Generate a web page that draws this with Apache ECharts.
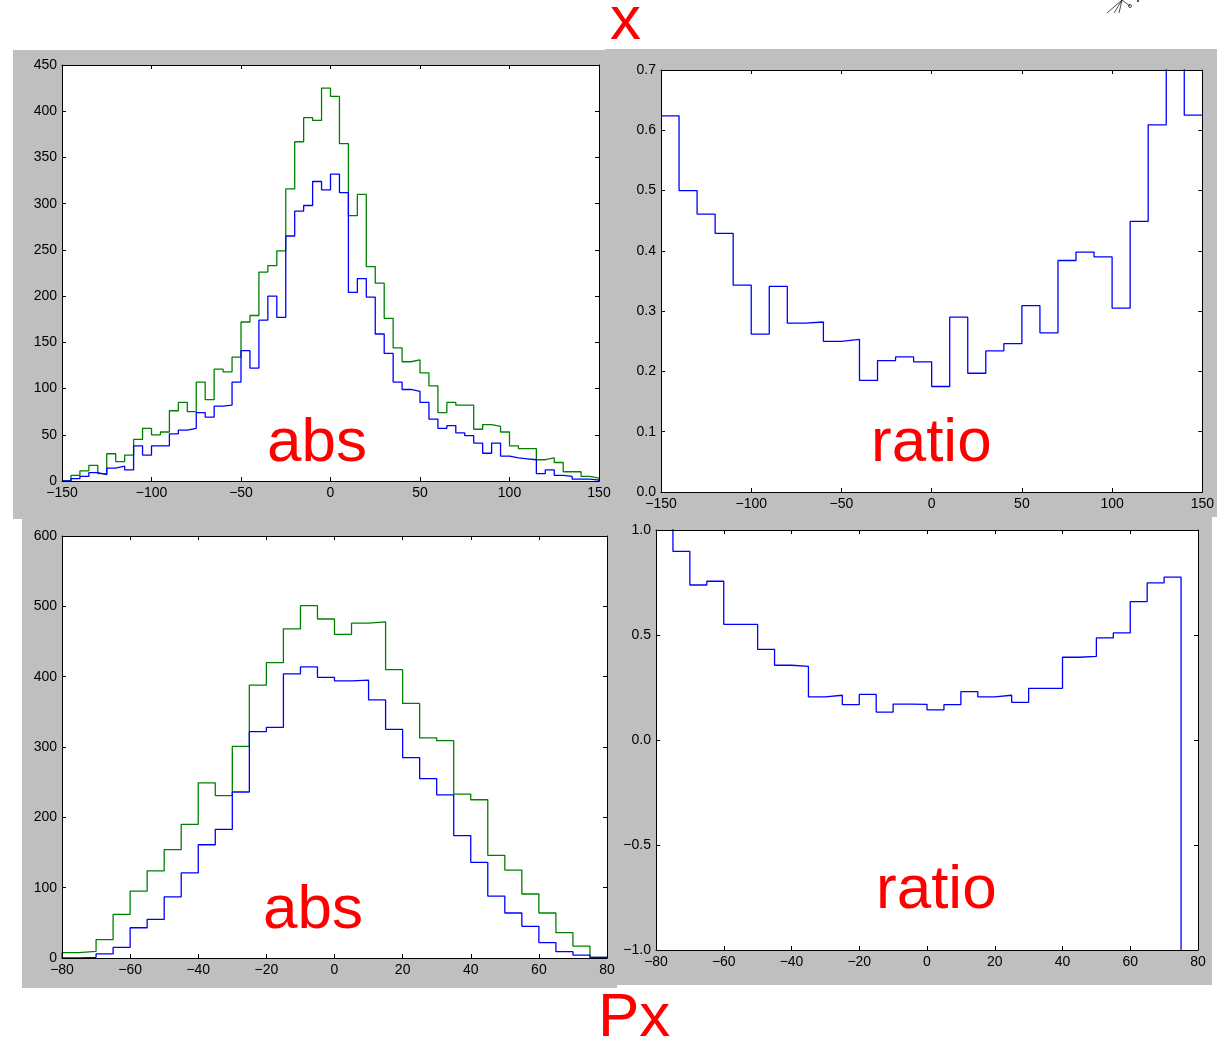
<!DOCTYPE html>
<html>
<head>
<meta charset="utf-8">
<title>x / Px histograms</title>
<script src="https://cdn.jsdelivr.net/npm/echarts@6/dist/echarts.min.js"></script>
<style>
  html, body { margin: 0; padding: 0; background: #fff; }
  #main { width: 1217px; height: 1043px; }
</style>
</head>
<body>
<div id="main"></div>
<script>
  'use strict';

  // ---- data ----
  // x histograms: 60 bins of width 5 from -150 to 150
  var xBinStart = -150, xBinWidth = 5;
  var xAbsGreen = [0, 6, 11, 17, 8, 29.5, 21, 28, 45, 57, 50, 53, 76, 85, 75, 107, 88, 121, 118, 134,
    172, 179, 226, 233, 249, 316, 367, 393, 390, 425, 416, 365, 287, 310, 232, 214, 176, 144, 129, 131,
    117, 103, 74, 85, 82, 82, 56, 61, 59, 53, 38, 35, 35, 23, 25, 20, 10, 10, 5, 3];
  var xAbsBlue = [0, 2.5, 5, 9, 7, 14, 16, 12, 38, 28, 38, 38, 51, 55, 57, 74, 69, 81, 82, 107,
    141, 122, 174, 200, 177, 265, 292, 298, 324, 315, 332, 312, 204, 219, 199, 159, 138, 107, 99, 97,
    85, 67, 57, 60, 52, 49, 41, 30, 41, 27, 25, 24, 23, 8, 12, 6, 5, 2, 2, 1];

  // x ratio: 30 bins of width 10 from -150 to 150
  var xRatioStart = -150, xRatioWidth = 10;
  var xRatio = [0.624, 0.500, 0.461, 0.429, 0.343, 0.262, 0.341, 0.280, 0.282, 0.250,
    0.253, 0.185, 0.218, 0.224, 0.216, 0.175, 0.290, 0.197, 0.234, 0.246,
    0.309, 0.264, 0.384, 0.398, 0.390, 0.305, 0.449, 0.609, 0.800, 0.625];

  // Px histograms: 32 bins of width 5 from -80 to 80
  var pxBinStart = -80, pxBinWidth = 5;
  var pxAbsGreen = [7.6, 9.5, 26, 62, 95, 124, 154, 190, 249, 231, 301, 388, 420, 468, 501, 482,
    460, 476, 478, 410, 362, 313, 309, 233, 225, 146, 125, 91, 64, 36, 17, 1];
  var pxAbsBlue = [0, 1, 6, 15, 43, 55, 87, 121, 161, 183, 236, 322, 328, 404, 414, 399,
    394, 395, 367, 325, 285, 255, 232, 174, 136, 88, 64, 45, 22, 9, 4, 1];
  var pxRatio = [1.2, 0.898, 0.738, 0.756, 0.551, 0.551, 0.432, 0.356, 0.351, 0.205, 0.213, 0.168,
    0.217, 0.133, 0.171, 0.170, 0.143, 0.168, 0.230, 0.205, 0.213, 0.179, 0.246, 0.246,
    0.394, 0.398, 0.486, 0.510, 0.659, 0.748, 0.776, -1.5];

  // axis ranges / ticks
  var xRange = [-150, 150, 50];
  var pxRange = [-80, 80, 20];
  var xAbsY = [0, 450, 50];
  var xRatioY = [0, 0.7, 0.1];
  var pxAbsY = [0, 600, 100];
  var pxRatioY = [-1, 1, 0.5];

  var BLUE = '#0000ff', GREEN = '#008000', GRAY = '#bfbfbf', RED = '#ff0000';
  var FONT = '"Liberation Sans", Arial, Helvetica, sans-serif';

  // turn bin contents into the outline of a step histogram
  function steps(start, width, vals, baseline) {
    var pts = baseline ? [[start, 0]] : [];
    for (var i = 0; i < vals.length; i++) {
      pts.push([start + i * width, vals[i]]);
      pts.push([start + (i + 1) * width, vals[i]]);
    }
    if (baseline) pts.push([start + vals.length * width, 0]);
    return pts;
  }

  function minus(s) { return String(s).replace('-', '\u2212'); }

  function axisBase(gi, range, pos, labels, fmt) {
    return {
      type: 'value', gridIndex: gi, position: pos,
      min: range[0], max: range[1], interval: range[2],
      z: 5,
      splitLine: { show: false },
      axisLine: { show: true, onZero: false, lineStyle: { color: '#000', width: 1 } },
      axisTick: { show: true, inside: true, length: 4, lineStyle: { color: '#000' } },
      axisLabel: {
        show: labels, color: '#000', fontSize: 14, fontFamily: FONT, margin: 5,
        showMinLabel: true, showMaxLabel: true,
        formatter: function (v) { return minus(fmt(v)); }
      }
    };
  }

  var intFmt = function (v) { return Math.round(v).toString(); };
  var oneFmt = function (v) { return v.toFixed(1); };

  var grids = [
    { left: 62, top: 65, width: 537, height: 416 },
    { left: 661, top: 70, width: 544, height: 422 },
    { left: 62, top: 536, width: 545, height: 422 },
    { left: 656, top: 530, width: 542, height: 420 }
  ];
  var xRanges = [xRange, xRange, pxRange, pxRange];
  var yRanges = [xAbsY, xRatioY, pxAbsY, pxRatioY];
  var yFmts = [intFmt, oneFmt, intFmt, oneFmt];

  var xAxes = [], yAxes = [];
  grids.forEach(function (g, i) {
    g.show = true;
    g.backgroundColor = '#fff';
    g.borderWidth = 0;
    xAxes.push(axisBase(i, xRanges[i], 'bottom', true, intFmt));
    xAxes.push(axisBase(i, xRanges[i], 'top', false, intFmt));
    yAxes.push(axisBase(i, yRanges[i], 'left', true, yFmts[i]));
    yAxes.push(axisBase(i, yRanges[i], 'right', false, yFmts[i]));
  });

  function stepSeries(axisIdx, color, pts) {
    return {
      type: 'line', xAxisIndex: axisIdx * 2, yAxisIndex: axisIdx * 2,
      data: pts, symbol: 'none', clip: true, animation: false,
      lineStyle: { color: color, width: 1.3 }
    };
  }

  var series = [
    stepSeries(0, GREEN, steps(xBinStart, xBinWidth, xAbsGreen, true)),
    stepSeries(0, BLUE, steps(xBinStart, xBinWidth, xAbsBlue, true)),
    stepSeries(1, BLUE, steps(xRatioStart, xRatioWidth, xRatio, false)),
    stepSeries(2, GREEN, steps(pxBinStart, pxBinWidth, pxAbsGreen, true)),
    stepSeries(2, BLUE, steps(pxBinStart, pxBinWidth, pxAbsBlue, true)),
    stepSeries(3, BLUE, steps(pxBinStart, pxBinWidth, pxRatio, false))
  ];

  function panelBg(x, y, w, h) {
    return { type: 'rect', z: -10, silent: true, shape: { x: x, y: y, width: w, height: h }, style: { fill: GRAY } };
  }
  function bigText(t, x, y) {
    return {
      type: 'text', z: 100, silent: true, x: x, y: y,
      style: { text: t, fill: RED, font: '62px ' + FONT, verticalAlign: 'middle' }
    };
  }
  function scribble(x1, y1, x2, y2) {
    return { type: 'line', z: 100, silent: true, shape: { x1: x1, y1: y1, x2: x2, y2: y2 }, style: { stroke: '#222', lineWidth: 0.8 } };
  }

  var graphic = [
    panelBg(13, 50, 600, 469),
    panelBg(605, 49, 612, 468),
    panelBg(22, 517, 595, 471),
    panelBg(612, 515, 600, 470),
    bigText('x', 610, 22),
    bigText('abs', 267, 444),
    bigText('ratio', 871, 444),
    bigText('abs', 263, 911),
    bigText('ratio', 876, 891),
    bigText('Px', 598, 1019),
    scribble(1122, 0, 1107, 13),
    scribble(1122, 0, 1114, 13),
    scribble(1122, 0, 1119, 13),
    scribble(1122, 0, 1130, 6),
    { type: 'circle', z: 100, silent: true, shape: { cx: 1130, cy: 6, r: 1.5 }, style: { fill: 'none', stroke: '#222', lineWidth: 0.8 } },
    { type: 'circle', z: 100, silent: true, shape: { cx: 1138, cy: 1, r: 1 }, style: { fill: '#222' } }
  ];

  var chart = echarts.init(document.getElementById('main'), null, { renderer: 'canvas' });
  chart.setOption({
    animation: false,
    backgroundColor: '#fff',
    grid: grids,
    xAxis: xAxes,
    yAxis: yAxes,
    series: series,
    graphic: graphic
  });
</script>
</body>
</html>
